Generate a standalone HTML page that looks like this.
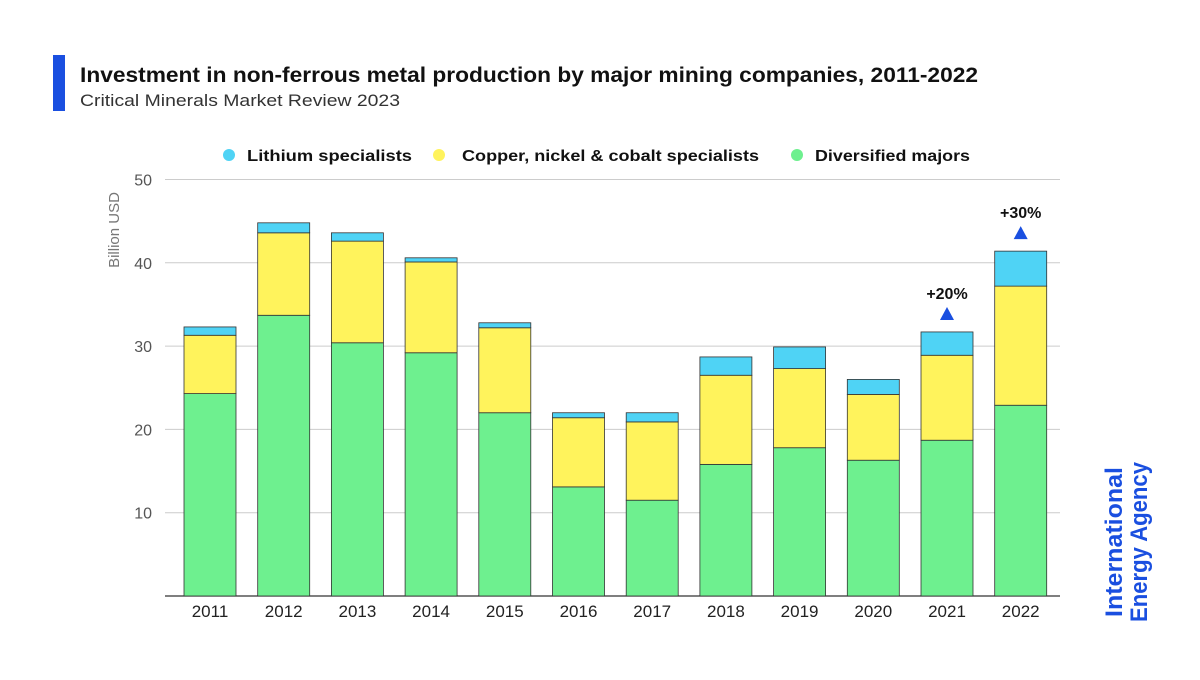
<!DOCTYPE html>
<html><head><meta charset="utf-8"><style>
body{margin:0;background:#fff;width:1200px;height:675px;overflow:hidden;font-family:"Liberation Sans",sans-serif}
</style></head><body>
<svg width="1200" height="675" xmlns="http://www.w3.org/2000/svg">
<rect x="53" y="55" width="12" height="56" fill="#1a4fe0"/>
<text x="80" y="82" font-size="21" font-weight="bold" fill="#111" textLength="898" lengthAdjust="spacingAndGlyphs">Investment in non-ferrous metal production by major mining companies, 2011-2022</text>
<text x="80" y="106" font-size="17" fill="#333" textLength="320" lengthAdjust="spacingAndGlyphs">Critical Minerals Market Review 2023</text>
<g font-size="16" font-weight="bold" fill="#111">
<circle cx="229" cy="155" r="6" fill="#4fd3f5"/>
<text x="247" y="161" textLength="165" lengthAdjust="spacingAndGlyphs">Lithium specialists</text>
<circle cx="439" cy="155" r="6" fill="#fff35c"/>
<text x="462" y="161" textLength="297" lengthAdjust="spacingAndGlyphs">Copper, nickel &amp; cobalt specialists</text>
<circle cx="797" cy="155" r="6" fill="#6ef08f"/>
<text x="815" y="161" textLength="155" lengthAdjust="spacingAndGlyphs">Diversified majors</text>
</g>
<text transform="translate(119,230) rotate(-90)" text-anchor="middle" font-size="15" fill="#777">Billion USD</text>
<g id="grid"></g><g id="bars"></g><g id="labels"></g>
<text transform="translate(1122,542) rotate(-90)" text-anchor="middle" font-size="24" font-weight="bold" fill="#1a4fe0" textLength="150" lengthAdjust="spacingAndGlyphs">International</text>
<text transform="translate(1147,542) rotate(-90)" text-anchor="middle" font-size="24" font-weight="bold" fill="#1a4fe0" textLength="160" lengthAdjust="spacingAndGlyphs">Energy Agency</text>
</svg>
<script>
const years=["2011","2012","2013","2014","2015","2016","2017","2018","2019","2020","2021","2022"];
const diversified=[24.3,33.7,30.4,29.2,22.0,13.1,11.5,15.8,17.8,16.3,18.7,22.9];
const copper=[7.0,9.9,12.2,10.9,10.2,8.3,9.4,10.7,9.5,7.9,10.2,14.3];
const lithium=[1.0,1.2,1.0,0.5,0.6,0.6,1.1,2.2,2.6,1.8,2.8,4.2];
const ticks=[10,20,30,40,50];
const annotations=[{i:10,t:"+20%"},{i:11,t:"+30%"}];
const NS="http://www.w3.org/2000/svg";
const y=v=>596-v*8.33;
const x=i=>210+i*73.7;
const bw=52;
function mk(tag,at,parent){const e=document.createElementNS(NS,tag);for(const k in at)e.setAttribute(k,at[k]);parent.appendChild(e);return e;}
const g=document.getElementById('grid'),b=document.getElementById('bars'),l=document.getElementById('labels');
ticks.forEach(t=>{
 const ln=mk('line',{x1:165,x2:1060,y1:y(t),y2:y(t),stroke:'#ccc','stroke-width':1},g);
 
 
 const tx=mk('text',{x:152,y:y(t)+6,'text-anchor':'end','font-size':16,fill:'#555'},g);
 tx.textContent=t;
 
 
});
const ax=mk('line',{x1:165,x2:1060,y1:596,y2:596,stroke:'#333','stroke-width':1.2},g);


const series=[[diversified,'#6ef08f','diversified'],[copper,'#fff35c','copper'],[lithium,'#4fd3f5','lithium']];
years.forEach((yr,i)=>{
 let base=0;
 series.forEach(([arr,c,n])=>{
  const v=arr[i];
  const r=mk('rect',{x:x(i)-bw/2,y:y(base+v),width:bw,height:v*8.33,fill:c,stroke:'#333','stroke-width':0.8},b);
  
  
  base+=v;
 });
 const t=mk('text',{x:x(i),y:617,'text-anchor':'middle','font-size':17,fill:'#222'},l);
 t.textContent=yr;
 
 
});
annotations.forEach(a=>{
 const tot=diversified[a.i]+copper[a.i]+lithium[a.i];
 const top=y(tot);
 const cx=x(a.i);
 const p=mk('polygon',{points:`${cx-7},${top-12} ${cx+7},${top-12} ${cx},${top-25}`,fill:'#1a4fe0'},l);
 
 
 const t=mk('text',{x:cx,y:top-33,'text-anchor':'middle','font-size':16,'font-weight':'bold',fill:'#111'},l);
 t.textContent=a.t;
 
 
});
</script>
</body></html>
